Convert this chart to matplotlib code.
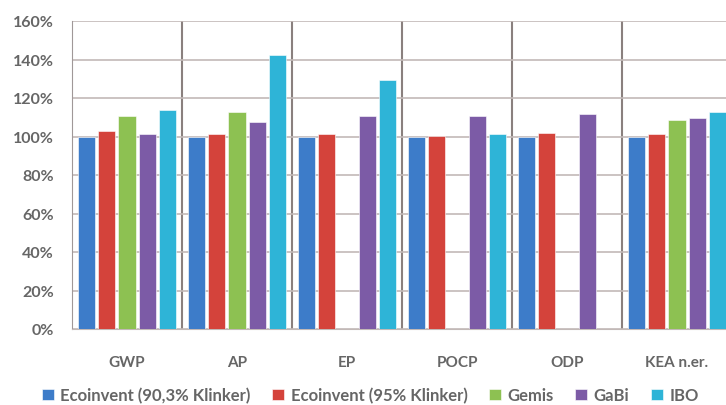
import numpy as np
import matplotlib.pyplot as plt

plt.rcParams['font.family'] = ['Lato', 'DejaVu Sans']

categories = ['GWP', 'AP', 'EP', 'POCP', 'ODP', 'KEA n.er.']
series_names = ['Ecoinvent (90,3% Klinker)', 'Ecoinvent (95% Klinker)', 'Gemis', 'GaBi', 'IBO']
ecoinvent_903 = [100, 100, 100, 100, 100, 100]
ecoinvent_95 = [103, 101.3, 101.5, 100.3, 101.7, 101.3]
gemis = [110.5, 112.6, np.nan, np.nan, np.nan, 108.7]
gabi = [101.3, 107.7, 110.8, 110.8, 111.7, 109.6]
ibo = [113.8, 142.5, 129.5, 101.3, np.nan, 112.6]
yticks = [0, 20, 40, 60, 80, 100, 120, 140, 160]

colors = ['#3d7cc9', '#d4433b', '#8dc152', '#7c5ba6', '#2eb4d7']
values = [ecoinvent_903, ecoinvent_95, gemis, gabi, ibo]

fig = plt.figure(figsize=(7.26, 4.06), dpi=100)
ax = fig.add_axes([72 / 726, 1 - 330 / 406, 660 / 726, 308 / 406])

x = np.arange(len(categories))
pitch = 0.186
width = 0.155
for i, (name, vals, c) in enumerate(zip(series_names, values, colors)):
    ax.bar(x + (i - 2) * pitch, vals, width, color=c, label=name,
           edgecolor='#ffffff', linewidth=0.4, zorder=3)

ax.set_ylim(0, 160)
ax.set_xlim(-0.5, len(categories) - 0.5)
ax.set_yticks(yticks)
ax.set_yticklabels([f'{v}%' for v in yticks], fontweight='bold')
ax.set_xticks(x)
ax.set_xticklabels(categories, fontweight='bold')
ax.tick_params(axis='y', length=0, pad=13, labelsize=11.5, labelcolor='#666666')
ax.tick_params(axis='x', length=0, pad=19, labelsize=11, labelcolor='#666666')

ax.yaxis.grid(True, color='#c2b9b7', linewidth=1.2, zorder=0)
for xs in x[:-1] + 0.5:
    ax.axvline(xs, color='#8a807e', linewidth=1.5, zorder=1)

for side in ['top', 'right']:
    ax.spines[side].set_visible(False)
ax.spines['left'].set_color('#a09898')
ax.spines['bottom'].set_color('#c2b9b7')

fig.legend(loc='center', bbox_to_anchor=(0.51, 0.024), ncol=5, frameon=False,
           prop={'size': 12, 'weight': 'bold'}, handlelength=0.7, handleheight=0.7,
           handletextpad=0.4, columnspacing=1.3, labelcolor='#666666')

fig.savefig('out.png', dpi=100)
